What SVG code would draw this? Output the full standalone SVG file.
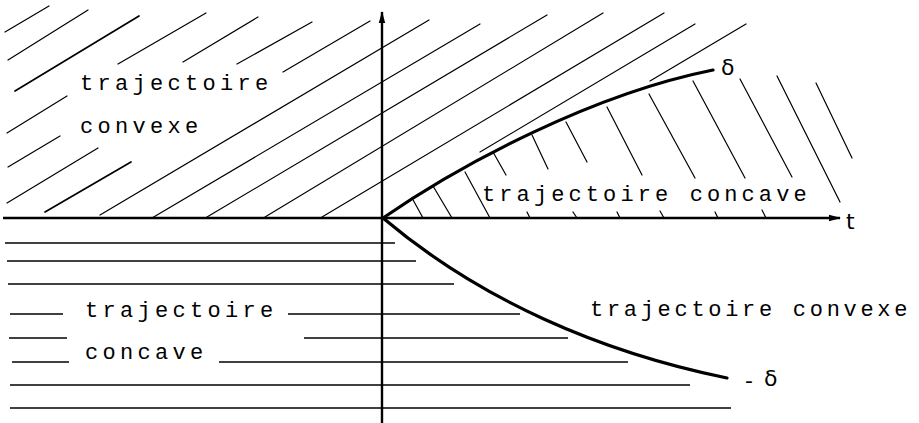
<svg xmlns="http://www.w3.org/2000/svg" width="919" height="423" viewBox="0 0 919 423">
<style>
.h{stroke:#000;stroke-width:1.2;fill:none;stroke-linecap:round}
.hb{stroke:#000;stroke-width:1.7;fill:none;stroke-linecap:round}
.hz{stroke:#000;stroke-width:1.4;fill:none}
.ax{stroke:#000;stroke-width:2.4;fill:none}
.cv{stroke:#000;stroke-width:3.2;fill:none;stroke-linecap:round}
.lb{font-family:"Liberation Mono","DejaVu Sans Mono",monospace;font-size:22px;fill:#000;letter-spacing:4.3px}
.sym{font-family:"DejaVu Sans","Liberation Sans",sans-serif;font-size:22px;fill:#000}
</style>
<defs>
<marker id="arr" viewBox="0 0 12 8" refX="11" refY="4" markerWidth="12" markerHeight="8" markerUnits="userSpaceOnUse" orient="auto">
<path d="M0,0.8 L12,4 L0,7.2 Z" fill="#000"/>
</marker>
</defs>
<rect width="919" height="423" fill="#fff"/>
<g id="hatch-convex-upper">
<line class="h" x1="5" y1="32" x2="49" y2="6"/>
<line class="h" x1="8" y1="60" x2="88" y2="10"/>
<line class="hb" x1="15" y1="91" x2="139" y2="16"/>
<line class="h" x1="118" y1="64" x2="206" y2="13"/>
<line class="h" x1="183" y1="62" x2="258" y2="17"/>
<line class="h" x1="237" y1="64" x2="312" y2="22"/>
<line class="h" x1="283" y1="72" x2="370" y2="21"/>
<line class="h" x1="7" y1="133" x2="67" y2="96"/>
<line class="h" x1="8" y1="167" x2="60" y2="136"/>
<line class="h" x1="7" y1="203" x2="98" y2="148"/>
<line class="hb" x1="45" y1="212" x2="131" y2="162"/>
<line class="h" x1="100" y1="215" x2="429" y2="20"/>
<line class="h" x1="152" y1="218" x2="480" y2="24"/>
<line class="h" x1="207" y1="217" x2="547" y2="15"/>
<line class="h" x1="265" y1="217" x2="603" y2="13"/>
<line class="h" x1="322" y1="217" x2="664" y2="13"/>
<line class="h" x1="480" y1="152" x2="695" y2="24"/>
<line class="h" x1="650" y1="81" x2="746" y2="24"/>
</g>
<g id="hatch-concave-right">
<line class="h" x1="412" y1="198" x2="423" y2="218"/>
<line class="h" x1="433" y1="186" x2="452" y2="218"/>
<line class="h" x1="465" y1="172" x2="490" y2="218"/>
<line class="h" x1="493" y1="152" x2="506" y2="175"/>
<line class="h" x1="532" y1="135" x2="548" y2="169"/>
<line class="h" x1="566" y1="122" x2="587" y2="162"/>
<line class="h" x1="607" y1="107" x2="642" y2="175"/>
<line class="h" x1="649" y1="94" x2="695" y2="178"/>
<line class="h" x1="693" y1="81" x2="745" y2="178"/>
<line class="h" x1="740" y1="79" x2="792" y2="177"/>
<line class="h" x1="777" y1="76" x2="840" y2="202"/>
<line class="h" x1="816" y1="83" x2="852" y2="158"/>
<line class="h" x1="527" y1="212" x2="530" y2="218"/>
<line class="h" x1="573" y1="212" x2="577" y2="218"/>
<line class="h" x1="617" y1="212" x2="620" y2="218"/>
<line class="h" x1="660" y1="211" x2="664" y2="218"/>
<line class="h" x1="715" y1="212" x2="718" y2="218"/>
<line class="h" x1="762" y1="210" x2="766" y2="218"/>
</g>
<g id="hatch-concave-lower">
<line class="hz" x1="5" y1="243" x2="395" y2="243"/>
<line class="hz" x1="7" y1="261" x2="416" y2="261"/>
<line class="hz" x1="8" y1="284" x2="454" y2="284"/>
<line class="hz" x1="10" y1="314" x2="63" y2="314"/>
<line class="hz" x1="288" y1="314" x2="520" y2="314"/>
<line class="hz" x1="9" y1="338" x2="67" y2="338"/>
<line class="hz" x1="304" y1="338" x2="568" y2="338"/>
<line class="hz" x1="12" y1="362" x2="69" y2="362"/>
<line class="hz" x1="219" y1="362" x2="628" y2="362"/>
<line class="hz" x1="10" y1="385" x2="690" y2="385"/>
<line class="hz" x1="10" y1="408" x2="731" y2="408"/>
</g>
<g id="axes">
<line class="ax" x1="3" y1="218" x2="840" y2="218" marker-end="url(#arr)"/>
<line class="ax" x1="382" y1="423" x2="382" y2="12" marker-end="url(#arr)"/>
</g>
<g id="curves">
<path id="delta" class="cv" d="M383,218 C463,163 593,94 713,70"/>
<path id="minus-delta" class="cv" d="M383,218 C480,300 600,352 727,378"/>
</g>
<g id="labels">
<text class="lb" x="80" y="90">trajectoire</text>
<text class="lb" x="80" y="133">convexe</text>
<text class="lb" x="482" y="201" style="letter-spacing:4.1px">trajectoire concave</text>
<text class="lb" x="590" y="316" style="letter-spacing:3.7px">trajectoire convexe</text>
<text class="lb" x="85" y="317">trajectoire</text>
<text class="lb" x="85" y="359">concave</text>
<text class="sym" x="721" y="75">δ</text>
<text class="sym" x="745" y="388">-</text>
<text class="sym" x="764" y="386">δ</text>
<text class="sym" x="846" y="229">t</text>
</g>
</svg>
